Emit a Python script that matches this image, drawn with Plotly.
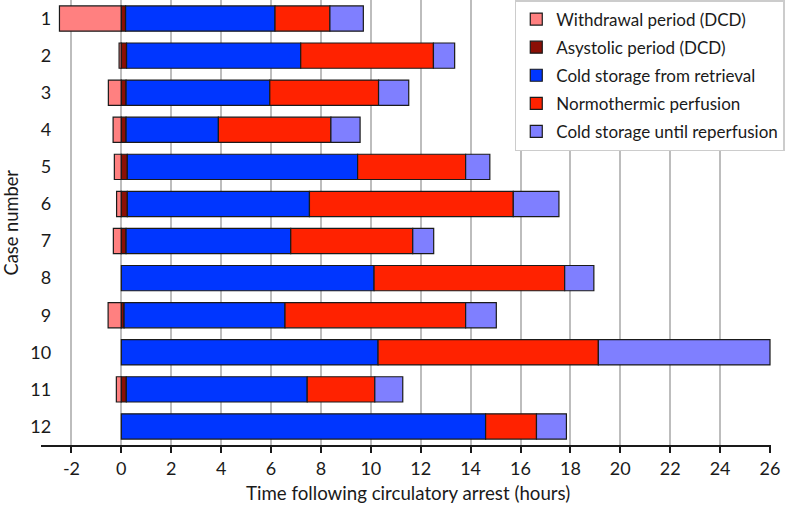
import plotly.graph_objects as go

cases = [str(i) for i in range(1, 13)]

# durations in hours for each phase (None = phase not present)
withdrawal = [2.48, 0.09, 0.52, 0.33, 0.28, 0.19, 0.32, None, 0.53, None, 0.20, None]
asystolic = [0.17, 0.21, 0.19, 0.19, 0.24, 0.24, 0.19, None, 0.11, None, 0.20, None]
cold_retrieval = [5.99, 6.98, 5.76, 3.70, 9.23, 7.30, 6.60, 10.13, 6.45, 10.29, 7.25, 14.60]
normothermic = [2.20, 5.32, 4.36, 4.51, 4.33, 8.17, 4.89, 7.64, 7.24, 8.83, 2.71, 2.04]
cold_reperfusion = [1.34, 0.85, 1.21, 1.17, 0.97, 1.83, 0.84, 1.17, 1.23, 6.88, 1.12, 1.20]

x_ticks = list(range(-2, 27, 2))
x_labels = [str(t) for t in x_ticks]  # plain hyphen for "-2"

FONT = "Lato, 'Open Sans', sans-serif"
edge = dict(color="#1a1a1a", width=1.2)

fig = go.Figure()
series = [
    ("Withdrawal period (DCD)", [-w if w is not None else None for w in withdrawal], "#FF8080"),
    ("Asystolic period (DCD)", asystolic, "#8B0F05"),
    ("Cold storage from retrieval", cold_retrieval, "#0036FF"),
    ("Normothermic perfusion", normothermic, "#FF2200"),
    ("Cold storage until reperfusion", cold_reperfusion, "#7F7FFF"),
]
for name, vals, color in series:
    # own legend group per trace so tracegroupgap spaces the legend rows
    fig.add_bar(
        y=cases, x=vals, name=name, orientation="h", width=0.68, legendgroup=name,
        marker=dict(color=color, line=edge),
    )

fig.update_layout(
    barmode="relative",
    width=800, height=506,
    margin=dict(l=41, r=29, t=0, b=61),
    paper_bgcolor="white", plot_bgcolor="white",
    font=dict(family=FONT, size=18, color="#1a1a1a"),
    showlegend=True,
    legend=dict(
        x=0.649, y=1, xanchor="left", yanchor="top",
        bgcolor="white", bordercolor="#cccccc", borderwidth=1.5,
        font=dict(size=17), traceorder="grouped", tracegroupgap=3,
    ),
    xaxis=dict(
        range=[-3.22, 26.04], tickmode="array", tickvals=x_ticks, ticktext=x_labels,
        showgrid=True, gridcolor="#bdbdbd", gridwidth=1.5, zeroline=False,
        showline=True, linecolor="#1a1a1a", linewidth=2,
        ticks="outside", ticklen=6, tickwidth=1.5, tickcolor="#1a1a1a",
        automargin=False,
    ),
    yaxis=dict(
        autorange="reversed", showgrid=False, showline=False, zeroline=False,
        ticks="", anchor="free", position=0.014, automargin=False,
    ),
    annotations=[
        dict(text="Time following circulatory arrest (hours)", xref="paper", yref="paper",
             x=(408 - 41) / 730, y=0, yshift=-48, xanchor="center", yanchor="middle",
             showarrow=False, font=dict(size=18.7)),
        dict(text="Case number", xref="paper", yref="paper",
             x=-31 / 730, y=0.5, textangle=-90, xanchor="center", yanchor="middle",
             showarrow=False, font=dict(size=18.3)),
    ],
)

# drop the browser's default body margin so the figure sits at the page corner
fig.write_html("out.html", config={"displayModeBar": False},
               post_script="document.body.style.margin='0';")
